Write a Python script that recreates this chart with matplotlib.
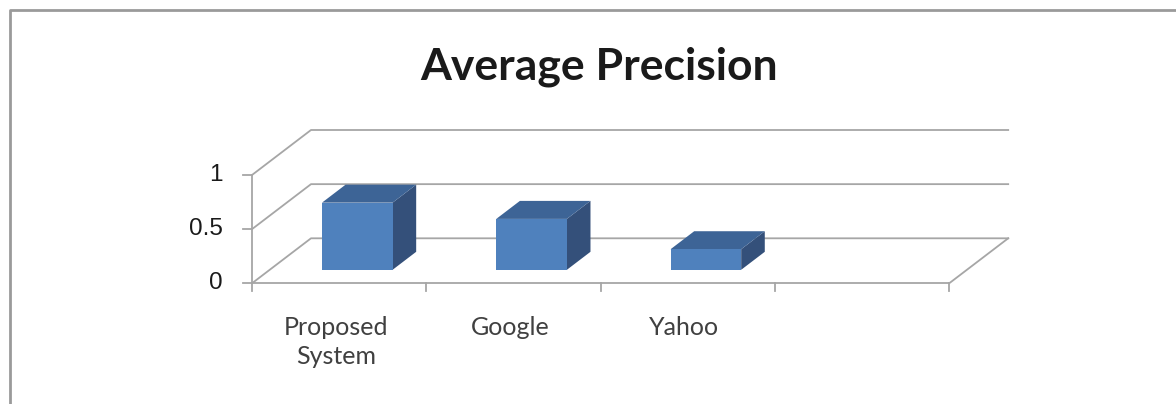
import matplotlib
matplotlib.use("Agg")
import matplotlib.pyplot as plt
from matplotlib.patches import Polygon
from matplotlib.lines import Line2D

# chart data
categories = ["Proposed\nSystem", "Google", "Yahoo", ""]
precision = [0.62, 0.47, 0.19]
y_ticks = [0, 0.5, 1]
y_tick_labels = ["0", "0.5", "1"]

# fake 3d look (excel style oblique projection)
W, H = 1176, 404
X0_PX, SLOT_PX = 252, 174.3
Y0_PX, UNIT_PX = 283.3, 108.3
DX = 59 / SLOT_PX      # depth shift along x for full depth
DY = 45 / UNIT_PX      # depth shift along y for full depth

FRONT = "#4F81BD"
TOP = "#3D6496"
SIDE = "#34507A"
GRID = "#A6A6A6"


def shift(x, y, d):
    return (x + d * DX, y + d * DY)


def main():
    fig = plt.figure(figsize=(W / 100, H / 100), dpi=100)
    ax = fig.add_axes([0, 0, 1, 1])
    ax.set_xlim((0 - X0_PX) / SLOT_PX, (W - X0_PX) / SLOT_PX)
    ax.set_ylim((Y0_PX - H) / UNIT_PX, Y0_PX / UNIT_PX)
    ax.axis("off")

    n = len(categories)
    lw = 1.3

    # walls, floor and gridlines
    for v in y_ticks:
        p0 = shift(0, v, 0)
        p1 = shift(0, v, 1)
        p2 = shift(n, v, 1)
        ax.plot([p0[0], p1[0], p2[0]], [p0[1], p1[1], p2[1]], color=GRID, lw=lw, zorder=1)
    f0 = shift(n, 0, 0)
    f1 = shift(n, 0, 1)
    ax.plot([f0[0], f1[0]], [f0[1], f1[1]], color=GRID, lw=lw, zorder=1)

    # axes lines
    ax.plot([0, n], [0, 0], color=GRID, lw=lw, zorder=2)
    ax.plot([0, 0], [0, max(y_ticks)], color=GRID, lw=lw, zorder=2)
    tick_x = 9 / SLOT_PX
    tick_y = 8 / UNIT_PX
    for v, lab in zip(y_ticks, y_tick_labels):
        ax.plot([-tick_x, 0], [v, v], color=GRID, lw=lw, zorder=2)
        ax.text(-29 / SLOT_PX, v, lab, ha="right", va="center", fontsize=17.5,
                family="Liberation Sans", color="#1a1a1a")
    for i in range(n + 1):
        ax.plot([i, i], [0, -tick_y], color=GRID, lw=lw, zorder=2)
    for i, lab in enumerate(categories):
        ax.text(i + 0.48, -0.30, lab, ha="center", va="top", fontsize=18,
                family="Lato", color="#404040", linespacing=1.35)

    # bars
    d0, d1 = 0.3, 0.7
    for i, val in enumerate(precision):
        x0, x1 = i + 0.3, i + 0.705
        front = [shift(x0, 0, d0), shift(x1, 0, d0), shift(x1, val, d0), shift(x0, val, d0)]
        top = [shift(x0, val, d0), shift(x1, val, d0), shift(x1, val, d1), shift(x0, val, d1)]
        side = [shift(x1, 0, d0), shift(x1, 0, d1), shift(x1, val, d1), shift(x1, val, d0)]
        ax.add_patch(Polygon(side, closed=True, fc=SIDE, ec="none", zorder=3))
        ax.add_patch(Polygon(top, closed=True, fc=TOP, ec="none", zorder=3))
        ax.add_patch(Polygon(front, closed=True, fc=FRONT, ec="none", zorder=4))

    # title
    fig.text(599 / W, 1 - 79.3 / H, "Average Precision", ha="center", va="baseline",
             fontsize=32, fontweight="bold", family="Lato", color="#1a1a1a")

    # outer border (cut off at right and bottom)
    fig.add_artist(Line2D([10 / W, 10 / W, 1.0], [0.0, 1 - 10 / H, 1 - 10 / H],
                          transform=fig.transFigure, color="#9a9a9a", lw=2))

    fig.savefig("out.png", dpi=100, facecolor="white")


if __name__ == '__main__':
    main()
